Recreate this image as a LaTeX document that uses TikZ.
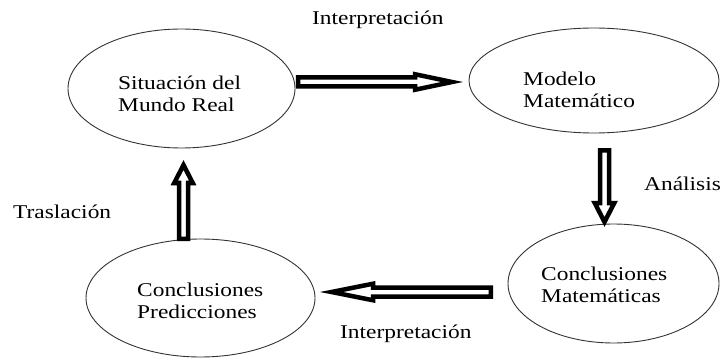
\documentclass[tikz,border=0pt]{standalone}
\usepackage{fontspec}
\setmainfont{Liberation Serif}[FakeStretch=1.2]
\usetikzlibrary{shapes.geometric,calc}
\tikzset{
  stage/.style={draw=black!80, line width=0.9pt, ellipse, inner sep=0pt},
  stagetext/.style={anchor=north west, inner sep=0pt, align=left, font=\fontsize{19.5}{22}\selectfont},
  lbl/.style={anchor=base west, inner sep=0pt, font=\fontsize{19.5}{22}\selectfont},
  blockarr/.style={draw=black, line width=4.5pt, fill=white, line join=miter},
}
% #1 start, #2 tip, #3 head length, #4 head half-width
\newcommand\blockarrow[4]{%
  \coordinate (ba-h) at ($(#2)!#3!(#1)$);
  \draw[blockarr] ($(#1)!4.5pt!90:(#2)$) -- ($(ba-h)!4.5pt!90:(#2)$) -- ($(ba-h)!#4!90:(#2)$)
    -- (#2) -- ($(ba-h)!#4!-90:(#2)$) -- ($(ba-h)!4.5pt!-90:(#2)$) -- ($(#1)!4.5pt!-90:(#2)$) -- cycle;}
\begin{document}
\begin{tikzpicture}[x=1pt,y=-1pt]
\useasboundingbox (0,0) rectangle (722,358);
% stages
\node[stage, minimum width=227pt, minimum height=119pt] (sit) at (181.5,88.5) {};
\node[stage, minimum width=250pt, minimum height=105pt] (mod) at (594,80.5) {};
\node[stage, minimum width=211pt, minimum height=119pt] (cmat) at (613.5,283.5) {};
\node[stage, minimum width=229pt, minimum height=118pt] (cpred) at (200.5,298) {};
\node[stagetext] (sitt) at (118,75.7) {Situación del\\Mundo Real};
\node[stagetext] (modt) at (523,71.7) {Modelo\\Matemático};
\node[stagetext] (cmatt) at (541,266.7) {Conclusiones\\Matemáticas};
\node[stagetext] (cpredt) at (137,282.7) {Conclusiones\\Predicciones};
% arrow end points
\coordinate (a1s) at (298,82);    \coordinate (a1e) at (452,82);
\coordinate (a2s) at (604.5,150.5); \coordinate (a2e) at (604.5,222);
\coordinate (a3s) at (490.75,292); \coordinate (a3e) at (331.5,292);
\coordinate (a4s) at (183.5,238.75); \coordinate (a4e) at (183.5,165);
\blockarrow{a1s}{a1e}{37pt}{7.75pt}
\blockarrow{a2s}{a2e}{19pt}{9.75pt}
\blockarrow{a3s}{a3e}{41.5pt}{8.25pt}
\blockarrow{a4s}{a4e}{18pt}{9.25pt}
% labels
\node[lbl] (l1) at (312,24.5) {Interpretación};
\node[lbl] (l2) at (644,190.5) {Análisis};
\node[lbl] (l3) at (13,218.5) {Traslación};
\node[lbl] (l4) at (340,338) {Interpretación};
\end{tikzpicture}
\end{document}
